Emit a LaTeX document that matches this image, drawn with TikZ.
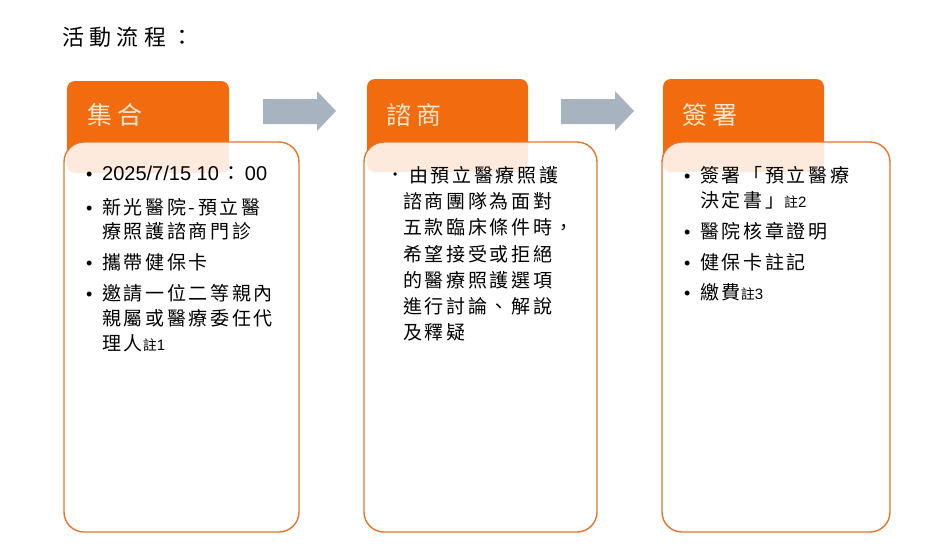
\documentclass[tikz,border=0pt]{standalone}
\usepackage{fontspec}
\setmainfont{Liberation Sans}
\newfontfamily\cjk[LetterSpace=14]{Noto Sans CJK TC}
\newfontfamily\cjkT[LetterSpace=24]{Noto Sans CJK TC}
\newfontfamily\cjkH[LetterSpace=20]{Noto Sans CJK TC}
\newfontfamily\cjkN{Noto Sans CJK TC}
\newfontfamily\lat{Liberation Sans}
\definecolor{taborange}{HTML}{F26B0E}
\definecolor{boxline}{HTML}{E2772D}
\definecolor{arrowgray}{HTML}{A8B3C0}
\definecolor{cream}{HTML}{FDE8CF}
\newcommand{\zhu}[1]{{\cjkN\fontsize{14}{14}\selectfont 註}{\lat\fontsize{15}{15}\selectfont #1}}
\tikzset{
  tabbox/.style={fill=taborange, draw=none, rounded corners=8pt},
  bodybox/.style={draw=boxline, line width=1.4pt, fill=white, fill opacity=0.86, rounded corners=20pt},
  blockarrow/.style={fill=arrowgray, draw=none},
  tabtext/.style={anchor=base west, inner sep=0pt, text=cream, font=\cjkH\fontsize{25}{25}\selectfont},
  bodytext/.style={anchor=base west, inner sep=0pt, font=\cjk\fontsize{19}{19}\selectfont},
  bul/.style={anchor=base west, inner sep=0pt, font=\lat\fontsize{18}{18}\selectfont},
}
\begin{document}
\begin{tikzpicture}[x=1pt,y=-1pt]
\useasboundingbox[fill=white] (0,0) rectangle (945,552);
% title
\node[anchor=base west, inner sep=0pt, font=\cjkT\fontsize{22}{22}\selectfont] (title) at (62,45.5) {活動流程：};
% tabs
\fill[tabbox] (67,81) rectangle (229,173);
\fill[tabbox] (367,79) rectangle (528,172);
\fill[tabbox] (663,79) rectangle (824,172);
\node[tabtext] (t1) at (87,124.5) {集合};
\node[tabtext] (t2) at (386,124.5) {諮商};
\node[tabtext] (t3) at (682,124.5) {簽署};
% arrows
\fill[blockarrow] (263,99) -- (317,99) -- (317,91) -- (336,111) -- (317,131) -- (317,124) -- (263,124) -- cycle;
\fill[blockarrow] (561,99) -- (615,99) -- (615,91) -- (634,111) -- (615,131) -- (615,124) -- (561,124) -- cycle;
% bodies
\draw[bodybox] (64,142) rectangle (299,532);
\draw[bodybox] (364,142) rectangle (597,532);
\draw[bodybox] (662,142) rectangle (890,532);
% box 1
\node[bul] (b1a) at (86,180) {•};
\node[anchor=base west, inner sep=0pt, font=\lat\fontsize{20}{20}\selectfont] (i1a) at (102,180) {2025/7/15 10\hspace{3pt}{\cjkN：}\hspace{3pt}00};
\node[bul] (b1b) at (86,214) {•};
\node[bodytext] (i1b1) at (102,214) {新光醫院-預立醫};
\node[bodytext] (i1b2) at (102,238) {療照護諮商門診};
\node[bul] (b1c) at (86,269.5) {•};
\node[bodytext] (i1c) at (102,269.5) {攜帶健保卡};
\node[bul] (b1d) at (86,300.5) {•};
\node[bodytext] (i1d1) at (102,300.5) {邀請一位二等親內};
\node[bodytext] (i1d2) at (102,325.3) {親屬或醫療委任代};
\node[bodytext] (i1d3) at (102,350.1) {理人\zhu{1}};
% box 2
\node[anchor=base west, inner sep=0pt, font=\lat\fontsize{12}{12}\selectfont] (b2a) at (393,178) {•};
\node[bodytext] (i2a) at (409,182.5) {由預立醫療照護};
\node[bodytext] (i2b) at (403,208.7) {諮商團隊為面對};
\node[bodytext] (i2c) at (403,234.9) {五款臨床條件時，};
\node[bodytext] (i2d) at (403,261.1) {希望接受或拒絕};
\node[bodytext] (i2e) at (403,287.3) {的醫療照護選項};
\node[bodytext] (i2f) at (403,313.5) {進行討論、解說};
\node[bodytext] (i2g) at (403,339.7) {及釋疑};
% box 3
\node[bul] (b3a) at (684,182.5) {•};
\node[bodytext] (i3a1) at (700,182.5) {簽署「預立醫療};
\node[bodytext] (i3a2) at (700,207.5) {決定書」\zhu{2}};
\node[bul] (b3b) at (684,238.5) {•};
\node[bodytext] (i3b) at (700,238.5) {醫院核章證明};
\node[bul] (b3c) at (684,269.5) {•};
\node[bodytext] (i3c) at (700,269.5) {健保卡註記};
\node[bul] (b3d) at (684,299.5) {•};
\node[bodytext] (i3d) at (700,299.5) {繳費\zhu{3}};
\end{tikzpicture}
\end{document}
